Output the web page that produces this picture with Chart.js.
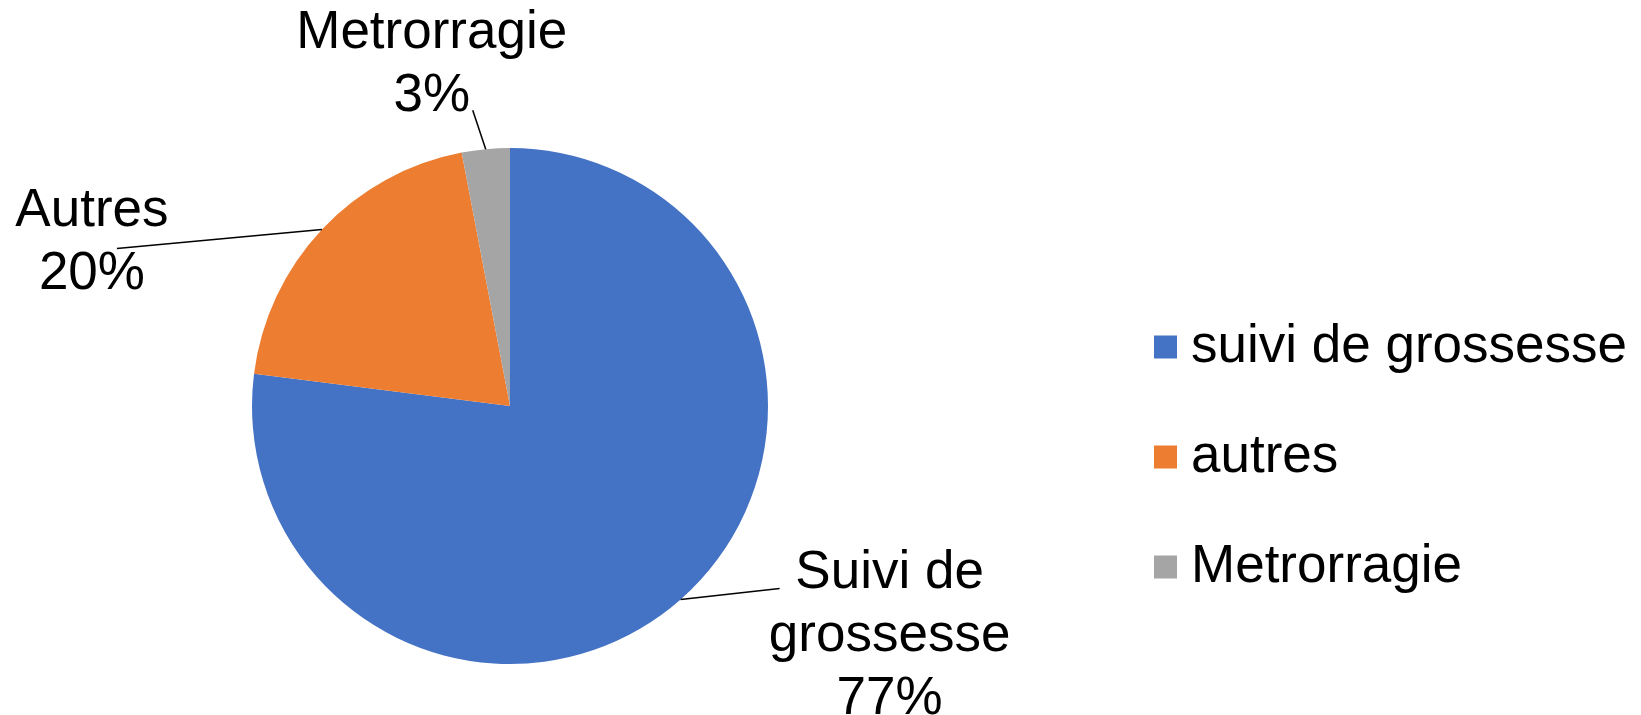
<!DOCTYPE html>
<html>
<head>
<meta charset="utf-8">
<script src="https://cdn.jsdelivr.net/npm/chart.js@4/dist/chart.umd.min.js"></script>
<style>
  html, body { margin: 0; padding: 0; background: #fff; }
</style>
</head>
<body>
<canvas id="canvas" width="1641" height="715"></canvas>
<script>
// legend names, and the names written next to the slices
const categories = ['suivi de grossesse', 'autres', 'Metrorragie'];
const sliceNames = [['Suivi de', 'grossesse'], ['Autres'], ['Metrorragie']];
const values = [77, 20, 3];

const colors = ['#4472C4', '#ED7D31', '#A5A5A5'];
const FONT = '"Liberation Sans", Arial, sans-serif';

// label placement, relative to the rim point in the middle of each slice
// (dx,dy) = text block centre, (lx,ly) = end of the leader line
const labelPlace = [
  { dx: 209, dy: 37, lx: 99, ly: -11 },
  { dx: -230, dy: 14, lx: -205, ly: 19 },
  { dx: -54, dy: -84, lx: -13, ly: -39 }
];

const sliceLabels = {
  id: 'sliceLabels',
  afterDatasetsDraw(chart) {
    const ctx = chart.ctx;
    const meta = chart.getDatasetMeta(0);
    const total = values.reduce((a, b) => a + b, 0);
    ctx.save();
    ctx.font = '53px ' + FONT;
    ctx.fillStyle = '#000';
    ctx.strokeStyle = '#000';
    ctx.lineWidth = 1.5;
    ctx.textAlign = 'center';
    ctx.textBaseline = 'middle';
    meta.data.forEach((arc, i) => {
      const p = arc.getProps(['x', 'y', 'startAngle', 'endAngle', 'outerRadius'], true);
      const mid = (p.startAngle + p.endAngle) / 2;
      const ex = p.x + Math.cos(mid) * p.outerRadius;
      const ey = p.y + Math.sin(mid) * p.outerRadius;
      const pl = labelPlace[i];

      ctx.beginPath();
      ctx.moveTo(ex, ey);
      ctx.lineTo(ex + pl.lx, ey + pl.ly);
      ctx.stroke();

      const lines = sliceNames[i].concat(Math.round(values[i] / total * 100) + '%');
      const lh = 63;
      const y0 = ey + pl.dy - (lines.length - 1) * lh / 2;
      lines.forEach((t, k) => ctx.fillText(t, ex + pl.dx, y0 + k * lh));
    });
    ctx.restore();
  }
};

// legend on the right, Excel style: small square, short gap, big text
const sideLegend = {
  id: 'sideLegend',
  afterDraw(chart) {
    const ctx = chart.ctx;
    const ds = chart.data.datasets[0];
    const left = 1154, top = 347, step = 110, box = 23;
    ctx.save();
    ctx.font = '53px ' + FONT;
    ctx.textAlign = 'left';
    ctx.textBaseline = 'middle';
    chart.data.labels.forEach((name, i) => {
      const y = top + i * step;
      ctx.fillStyle = ds.backgroundColor[i];
      ctx.fillRect(left, y - box / 2, box, box);
      ctx.fillStyle = '#000';
      ctx.fillText(name, left + box + 14, y);
    });
    ctx.restore();
  }
};

new Chart(document.getElementById('canvas'), {
  type: 'pie',
  data: {
    labels: categories,
    datasets: [{
      data: values,
      backgroundColor: colors,
      borderWidth: 0
    }]
  },
  options: {
    responsive: false,
    animation: false,
    layout: { padding: { top: 148, bottom: 51, left: 0, right: 621 } },
    plugins: {
      tooltip: { enabled: false },
      legend: { display: false }
    }
  },
  plugins: [sliceLabels, sideLegend]
});
</script>
</body>
</html>
